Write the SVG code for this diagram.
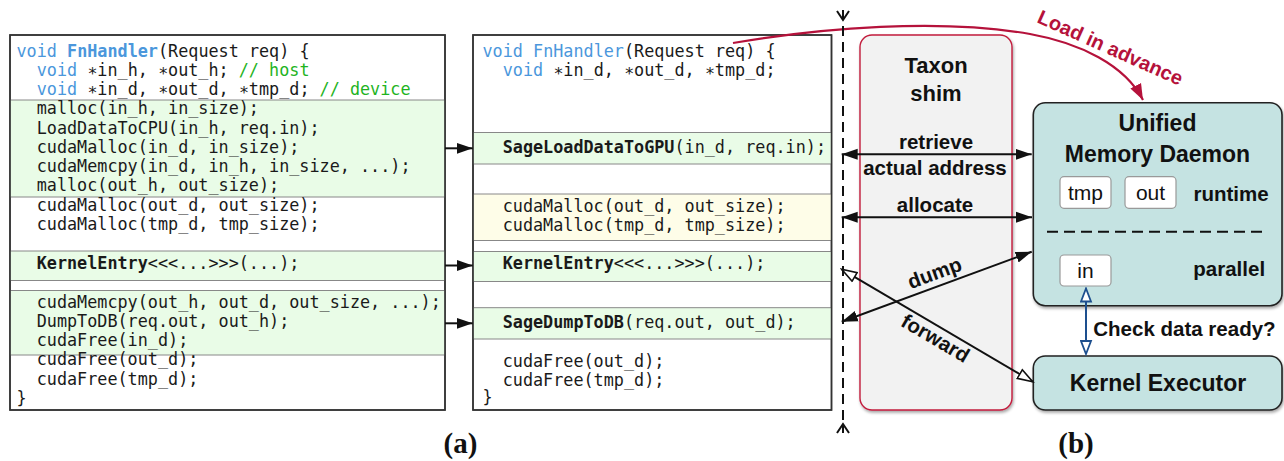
<svg xmlns="http://www.w3.org/2000/svg" width="1284" height="461" viewBox="0 0 1284 461">
<style>
.code{font-family:"DejaVu Sans Mono",monospace;font-size:16.8px;fill:#1a1a1a}
.kw{fill:#4b97dc}
.b{font-weight:bold}
.cm{fill:#1fb41f}
.box{fill:#fff;stroke:#333;stroke-width:1.5}
.sep{stroke:#888;stroke-width:1}
.gr{fill:#e9fce7}
.ye{fill:#fefde8}
.lbl{font-family:"Liberation Sans",Arial,sans-serif;font-weight:bold;fill:#111}
.reg{font-family:"Liberation Sans",Arial,sans-serif;fill:#111;font-size:21px}
.conn{stroke:#111;stroke-width:2;fill:none}
.teal{fill:#c5e3e2;stroke:#222;stroke-width:1.6}
.small{fill:#fff;stroke:#999;stroke-width:1.2}
</style>
<defs>
<marker id="ah" markerUnits="userSpaceOnUse" markerWidth="17" markerHeight="12" refX="16" refY="6" orient="auto-start-reverse"><path d="M0,0.5 L16,6 L0,11.5 z" fill="#111"/></marker>
<marker id="aho" markerUnits="userSpaceOnUse" markerWidth="18" markerHeight="13" refX="16" refY="6.5" orient="auto-start-reverse"><path d="M1,1.5 L16,6.5 L1,11.5 z" fill="#fff" stroke="#111" stroke-width="1.6"/></marker>
<marker id="ahb" markerUnits="userSpaceOnUse" markerWidth="16" markerHeight="13" refX="14" refY="6.5" orient="auto-start-reverse"><path d="M1,1.5 L14,6.5 L1,11.5 z" fill="#fff" stroke="#1d4f8e" stroke-width="1.8"/></marker>
<marker id="ahr" markerUnits="userSpaceOnUse" markerWidth="17" markerHeight="13" refX="16" refY="6.5" orient="auto"><path d="M0,0.5 L16,6.5 L0,12.5 z" fill="#b5123b"/></marker>
<filter id="sh" x="-10%" y="-10%" width="120%" height="130%"><feDropShadow dx="1" dy="2" stdDeviation="1.5" flood-color="#000" flood-opacity="0.35"/></filter>
</defs>

<g id="code-original">
<rect class="box" x="10" y="35" width="435" height="375"/>
<rect class="gr" x="10.5" y="100" width="434" height="97"/>
<rect class="gr" x="10.5" y="251" width="434" height="29.5"/>
<rect class="gr" x="10.5" y="290.5" width="434" height="64.5"/>
<line class="sep" x1="10" y1="100" x2="445" y2="100"/>
<line class="sep" x1="10" y1="197" x2="445" y2="197"/>
<line class="sep" x1="10" y1="251" x2="445" y2="251"/>
<line class="sep" x1="10" y1="280.5" x2="445" y2="280.5"/>
<line class="sep" x1="10" y1="290.5" x2="445" y2="290.5"/>
<line class="sep" x1="10" y1="355" x2="445" y2="355"/>
<rect x="10" y="35" width="435" height="375" fill="none" stroke="#333" stroke-width="1.5"/>
<text class="code" xml:space="preserve" x="16.5" y="56.7"><tspan class="kw">void</tspan> <tspan class="kw b">FnHandler</tspan>(Request req) {</text>
<text class="code" xml:space="preserve" x="36.7" y="75.9"><tspan class="kw">void</tspan> ∗in_h, ∗out_h; <tspan class="cm">// host</tspan></text>
<text class="code" xml:space="preserve" x="36.7" y="95.2"><tspan class="kw">void</tspan> ∗in_d, ∗out_d, ∗tmp_d; <tspan class="cm">// device</tspan></text>
<text class="code" x="36.7" y="114.4">malloc(in_h, in_size);</text>
<text class="code" x="36.7" y="133.7">LoadDataToCPU(in_h, req.in);</text>
<text class="code" x="36.7" y="152.9">cudaMalloc(in_d, in_size);</text>
<text class="code" x="36.7" y="172.2">cudaMemcpy(in_d, in_h, in_size, ...);</text>
<text class="code" x="36.7" y="191.4">malloc(out_h, out_size);</text>
<text class="code" x="36.7" y="210.7">cudaMalloc(out_d, out_size);</text>
<text class="code" x="36.7" y="229.9">cudaMalloc(tmp_d, tmp_size);</text>
<text class="code" x="36.7" y="268.5"><tspan class="b">KernelEntry</tspan>&lt;&lt;&lt;...&gt;&gt;&gt;(...);</text>
<text class="code" x="36.7" y="307.5">cudaMemcpy(out_h, out_d, out_size, ...);</text>
<text class="code" x="36.7" y="326.7">DumpToDB(req.out, out_h);</text>
<text class="code" x="36.7" y="346">cudaFree(in_d);</text>
<text class="code" x="36.7" y="365.2">cudaFree(out_d);</text>
<text class="code" x="36.7" y="384.5">cudaFree(tmp_d);</text>
<text class="code" x="16.5" y="403.5">}</text>
</g>

<g id="code-taxon">
<rect class="box" x="473" y="35" width="358.5" height="375"/>
<rect class="gr" x="473.5" y="132.5" width="357.5" height="31.5"/>
<rect class="ye" x="473.5" y="194" width="357.5" height="46.5"/>
<rect class="gr" x="473.5" y="251.5" width="357.5" height="30"/>
<rect class="gr" x="473.5" y="307.7" width="357.5" height="31.3"/>
<line class="sep" x1="473" y1="132.5" x2="831.5" y2="132.5"/>
<line class="sep" x1="473" y1="164" x2="831.5" y2="164"/>
<line class="sep" x1="473" y1="194" x2="831.5" y2="194"/>
<line class="sep" x1="473" y1="240.5" x2="831.5" y2="240.5"/>
<line class="sep" x1="473" y1="251.5" x2="831.5" y2="251.5"/>
<line class="sep" x1="473" y1="281.5" x2="831.5" y2="281.5"/>
<line class="sep" x1="473" y1="307.7" x2="831.5" y2="307.7"/>
<line class="sep" x1="473" y1="339" x2="831.5" y2="339"/>
<rect x="473" y="35" width="358.5" height="375" fill="none" stroke="#333" stroke-width="1.5"/>
<text class="code" xml:space="preserve" x="482.5" y="56.7"><tspan class="kw">void</tspan> <tspan class="kw">FnHandler</tspan>(Request req) {</text>
<text class="code" xml:space="preserve" x="502.7" y="75.9"><tspan class="kw">void</tspan> ∗in_d, ∗out_d, ∗tmp_d;</text>
<text class="code" x="502.7" y="153.3"><tspan class="b">SageLoadDataToGPU</tspan>(in_d, req.in);</text>
<text class="code" x="502.7" y="211.7">cudaMalloc(out_d, out_size);</text>
<text class="code" x="502.7" y="230.9">cudaMalloc(tmp_d, tmp_size);</text>
<text class="code" x="502.7" y="268.8"><tspan class="b">KernelEntry</tspan>&lt;&lt;&lt;...&gt;&gt;&gt;(...);</text>
<text class="code" x="502.7" y="327.7"><tspan class="b">SageDumpToDB</tspan>(req.out, out_d);</text>
<text class="code" x="502.7" y="366.7">cudaFree(out_d);</text>
<text class="code" x="502.7" y="386">cudaFree(tmp_d);</text>
<text class="code" x="482.5" y="403.3">}</text>
</g>

<g id="taxon-shim">
<rect x="860" y="35" width="152" height="375" rx="12" fill="#f2f2f2" stroke="#c21c3c" stroke-width="1.4" filter="url(#sh)"/>
<text class="lbl" x="936" y="73.3" font-size="22" text-anchor="middle">Taxon</text>
<text class="lbl" x="936" y="101" font-size="22" text-anchor="middle">shim</text>
</g>

<g id="unified-memory-daemon">
<rect class="teal" x="1033.3" y="102.7" width="248.7" height="203" rx="12" filter="url(#sh)"/>
<text class="lbl" x="1157.5" y="131" font-size="23" text-anchor="middle">Unified</text>
<text class="lbl" x="1157.5" y="161.7" font-size="23" text-anchor="middle">Memory Daemon</text>
<rect class="small" x="1060" y="176.7" width="51" height="31.6" rx="4"/>
<text class="reg" x="1085.5" y="200" text-anchor="middle">tmp</text>
<rect class="small" x="1125" y="176.7" width="51" height="31.6" rx="4"/>
<text class="reg" x="1150.5" y="200" text-anchor="middle">out</text>
<text class="lbl" x="1193.5" y="200.5" font-size="20.5">runtime</text>
<line x1="1047" y1="231.7" x2="1266" y2="231.7" stroke="#111" stroke-width="2" stroke-dasharray="11 6"/>
<rect class="small" x="1060" y="255" width="51" height="31" rx="4"/>
<text class="reg" x="1085.5" y="277.7" text-anchor="middle">in</text>
<text class="lbl" x="1193.3" y="276" font-size="20.5">parallel</text>
</g>

<g id="kernel-executor">
<rect class="teal" x="1033.3" y="356" width="248.7" height="54" rx="12" filter="url(#sh)"/>
<text class="lbl" x="1158" y="391" font-size="23" text-anchor="middle">Kernel Executor</text>
</g>

<g id="connectors">
<line class="conn" x1="445" y1="148.3" x2="472.7" y2="148.3" marker-end="url(#ah)"/>
<line class="conn" x1="445" y1="265.5" x2="472.7" y2="265.5" marker-end="url(#ah)"/>
<line class="conn" x1="445" y1="323.3" x2="472.7" y2="323.3" marker-end="url(#ah)"/>
<path d="M733,43 C820,28 940,18 1030,34 C1080,43 1125,65 1143,100" fill="none" stroke="#b5123b" stroke-width="2.2" marker-end="url(#ahr)"/>
<line x1="843" y1="10" x2="843" y2="433" stroke="#111" stroke-width="2" stroke-dasharray="10 6"/>
<polyline points="837,11 843,20 849,11" class="conn"/>
<polyline points="837,433 843,424 849,433" class="conn"/>
<line class="conn" x1="841.7" y1="154.3" x2="1031.7" y2="154.3" marker-start="url(#ah)" marker-end="url(#ah)"/>
<line class="conn" x1="841.7" y1="217.3" x2="1032" y2="217.3" marker-start="url(#ah)" marker-end="url(#ah)"/>
<line class="conn" x1="841.7" y1="321.7" x2="1031.7" y2="251.7" marker-start="url(#ah)" marker-end="url(#ah)"/>
<line class="conn" x1="841.7" y1="269.3" x2="1032.7" y2="381.7" marker-start="url(#aho)" marker-end="url(#aho)"/>
<line x1="1086" y1="288.5" x2="1086" y2="354" stroke="#1d4f8e" stroke-width="2" marker-start="url(#ahb)" marker-end="url(#ahb)"/>
<text class="lbl" x="936" y="149.3" font-size="20.5" text-anchor="middle">retrieve</text>
<text class="lbl" x="935" y="175" font-size="20.5" text-anchor="middle">actual address</text>
<text class="lbl" x="935" y="212.3" font-size="20.5" text-anchor="middle">allocate</text>
<text class="lbl" x="937" y="279.5" font-size="20.5" text-anchor="middle" transform="rotate(-20.2 937 279.5)">dump</text>
<text class="lbl" x="932" y="344.3" font-size="20.5" text-anchor="middle" transform="rotate(30.5 932 344.3)">forward</text>
<text class="lbl" x="1036" y="22" font-size="20" style="fill:#b5123b" transform="rotate(24 1036 22)">Load in advance</text>
<text class="lbl" x="1093.3" y="336" font-size="20.5">Check data ready?</text>
</g>

<text x="460.5" y="453" font-family="'Liberation Serif','Times New Roman',serif" font-weight="bold" font-size="29" text-anchor="middle" fill="#111">(a)</text>
<text x="1076" y="453" font-family="'Liberation Serif','Times New Roman',serif" font-weight="bold" font-size="29" text-anchor="middle" fill="#111">(b)</text>
</svg>
